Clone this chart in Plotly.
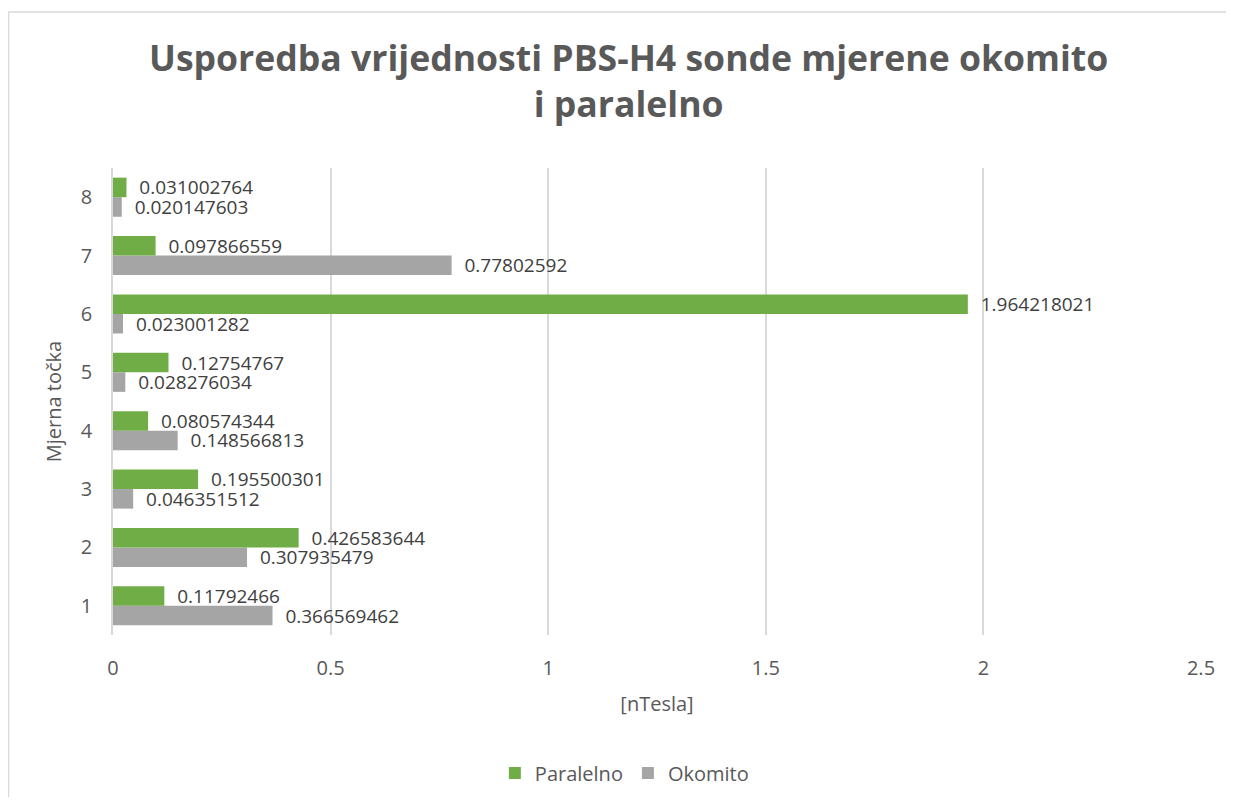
import plotly.graph_objects as go

points = ["1", "2", "3", "4", "5", "6", "7", "8"]
paralelno = [0.11792466, 0.426583644, 0.195500301, 0.080574344,
             0.12754767, 1.964218021, 0.097866559, 0.031002764]
okomito = [0.366569462, 0.307935479, 0.046351512, 0.148566813,
           0.028276034, 0.023001282, 0.77802592, 0.020147603]
x_ticks = [0, 0.5, 1, 1.5, 2, 2.5]
x_tick_text = ["0", "0.5", "1", "1.5", "2", "2.5"]

GREEN = "#70AD47"
GREY = "#A5A5A5"
INK = "#595959"
LABEL = "#404040"
GRID = "#D9D9D9"

# page draws the figure 8px in, so size it to fit the window
W, H = 1218, 789
L, R, T, B = 105, 25, 160, 162
pw, ph = W - L - R, H - T - B


def paper_y(px):
    # figure pixel row -> paper y
    return (H - B - px) / ph


fig = go.Figure()
# okomito first so it sits below paralelno in each group
fig.add_trace(go.Bar(
    y=points, x=okomito, name="Okomito", orientation="h",
    marker=dict(color=GREY, line=dict(width=0)),
    text=["  " + str(v) for v in okomito], textposition="outside",
    constraintext="none",
    textfont=dict(size=19, color=LABEL), cliponaxis=False, legendrank=2,
))
fig.add_trace(go.Bar(
    y=points, x=paralelno, name="Paralelno", orientation="h",
    marker=dict(color=GREEN, line=dict(width=0)),
    text=["  " + str(v) for v in paralelno], textposition="outside",
    constraintext="none",
    textfont=dict(size=19, color=LABEL), cliponaxis=False, legendrank=1,
))

# chart frame: only its top and left edges fall inside the window
frame = dict(color="#D9D9D9", width=1.5)
fig.add_shape(type="line", xref="paper", yref="paper",
              x0=-(L - 0.5) / pw, x1=(W - L) / pw, y0=paper_y(4), y1=paper_y(4), line=frame)
fig.add_shape(type="line", xref="paper", yref="paper",
              x0=-(L - 0.5) / pw, x1=-(L - 0.5) / pw, y0=paper_y(H), y1=paper_y(4), line=frame)

fig.add_annotation(
    text="<b>Usporedba vrijednosti PBS-H4 sonde mjerene okomito<br>i paralelno</b>",
    xref="paper", yref="paper", x=0.474, y=paper_y(72),
    xanchor="center", yanchor="middle", showarrow=False,
    font=dict(size=35.6, color=INK),
)

fig.update_layout(
    width=W, height=H,
    paper_bgcolor="white", plot_bgcolor="white",
    margin=dict(l=L, r=R, t=T, b=B),
    font=dict(family="Open Sans, sans-serif", size=20, color=INK),
    barmode="group", bargap=0.33, bargroupgap=0.0,
    showlegend=True,
    legend=dict(orientation="h", xref="paper", x=0.47, xanchor="center",
                yref="container", y=1 - 765 / H, yanchor="middle",
                font=dict(size=20, color=INK)),
)
fig.update_xaxes(
    range=[0, 2.5], tickvals=x_ticks, ticktext=x_tick_text,
    showgrid=True, gridcolor=GRID, gridwidth=1.5, zeroline=False,
    showline=False, ticks="", ticklabelstandoff=19,
    title=dict(text="[nTesla]", font=dict(size=20, color=INK), standoff=16),
    tickfont=dict(size=20, color=INK),
)
fig.update_yaxes(
    type="category", showgrid=False, zeroline=False,
    showline=True, linecolor=GRID, linewidth=1.5, ticks="",
    ticklabelstandoff=15,
    title=dict(text="Mjerna točka", font=dict(size=20, color=INK), standoff=14),
    tickfont=dict(size=20, color=INK),
)

fig.write_html("out.html")
